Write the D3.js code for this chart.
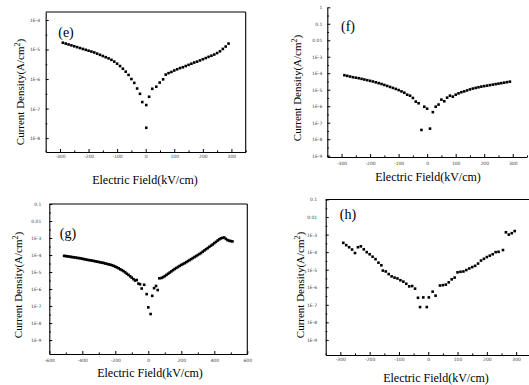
<!DOCTYPE html>
<html>
<head>
<meta charset="utf-8">
<script src="https://cdn.jsdelivr.net/npm/d3@7/dist/d3.min.js"></script>
<style>
  body { margin: 0; background: #fff; }
  svg { display: block; }
  .tick text { font-family: "DejaVu Sans", sans-serif; fill: #444; }
</style>
</head>
<body>
<svg id="chart" width="529" height="385"></svg>
<script>
// ---- data (field in kV/cm, log10 of current density in A/cm2) ----

// (e)
let eField = [-290,-280,-270,-260,-250,-240,-230,-220,-210,-200,-190,-180,-170,-160,-150,-140,-130,-120,-110,-100,
  -90,-80,-70,-60,-50,-40,-30,-20,-12,2,2,12,23,37,49,61,
  70,80,90,100,110,120,130,140,150,160,170,180,190,200,210,220,230,240,250,260,270,280,290];
let eLogJ = [-4.77,-4.80,-4.83,-4.86,-4.89,-4.92,-4.95,-4.98,-5.01,-5.04,-5.07,-5.10,-5.14,-5.18,-5.22,-5.26,-5.30,-5.35,-5.41,-5.48,
  -5.56,-5.65,-5.75,-5.86,-6.0,-6.13,-6.32,-6.5,-6.78,-6.88,-7.65,-6.6,-6.33,-6.26,-6.12,-6.01,
  -5.85,-5.8,-5.76,-5.71,-5.67,-5.63,-5.6,-5.56,-5.52,-5.48,-5.44,-5.41,-5.37,-5.33,-5.29,-5.25,-5.21,-5.17,-5.12,-5.06,-4.98,-4.9,-4.8];

// (f)
let fField = [-290,-280,-270,-260,-250,-240,-230,-220,-210,-200,-190,-180,-170,-160,-150,-140,-130,-120,-110,-100,
  -90,-80,-70,-60,-50,-40,-30,-20,-10,0,10,20,30,40,50,60,70,80,90,100,
  110,120,130,140,150,160,170,180,190,200,210,220,230,240,250,260,270,280,290];
let fLogJ = [-4.12,-4.16,-4.2,-4.24,-4.27,-4.3,-4.34,-4.38,-4.42,-4.46,-4.5,-4.55,-4.6,-4.65,-4.71,-4.77,-4.83,-4.89,-4.95,-5.02,
  -5.1,-5.18,-5.3,-5.36,-5.5,-5.72,-5.82,-7.44,-6.03,-6.15,-7.36,-6.36,-6.03,-5.9,-5.6,-5.7,-5.48,-5.36,-5.42,-5.3,
  -5.22,-5.15,-5.1,-5.04,-4.98,-4.93,-4.89,-4.85,-4.81,-4.78,-4.75,-4.72,-4.69,-4.66,-4.63,-4.6,-4.57,-4.54,-4.51];

// (g)
let gField = [-510,-500,-490,-480,-470,-460,-450,-440,-430,-420,-410,-400,-390,-380,-370,-360,-350,-340,-330,-320,
  -310,-300,-290,-280,-270,-260,-250,-240,-230,-220,-210,-200,-190,-180,-170,-160,-150,-140,-130,-120,
  -110,-100,-90,-80,-70,-60,-50,-40,-25,-10,0,14,24,35,47,57,67,
  80,90,100,110,120,130,140,150,160,170,180,190,200,210,220,230,240,250,260,270,
  280,290,300,310,320,330,340,350,360,370,380,390,400,410,420,430,440,450,460,470,480,490,500,510];
let gLogJ = [-4.05,-4.06,-4.08,-4.09,-4.11,-4.12,-4.14,-4.15,-4.17,-4.18,-4.2,-4.22,-4.24,-4.26,-4.28,-4.3,-4.31,-4.33,-4.35,-4.37,
  -4.39,-4.41,-4.43,-4.45,-4.47,-4.5,-4.52,-4.55,-4.57,-4.6,-4.64,-4.68,-4.73,-4.78,-4.84,-4.89,-4.95,-5.02,-5.1,-5.17,
  -5.25,-5.33,-5.42,-5.5,-5.47,-5.68,-5.72,-5.97,-5.75,-6.3,-7.08,-7.47,-6.4,-5.95,-5.82,-6.06,-5.37,
  -5.35,-5.3,-5.24,-5.17,-5.1,-5.03,-4.96,-4.89,-4.82,-4.76,-4.7,-4.64,-4.58,-4.53,-4.48,-4.42,-4.36,-4.3,-4.24,-4.18,
  -4.12,-4.06,-4.0,-3.94,-3.88,-3.8,-3.73,-3.66,-3.59,-3.52,-3.45,-3.38,-3.3,-3.23,-3.15,-3.08,-3.02,-2.99,-2.97,-3.05,-3.12,-3.16,-3.18,-3.2];

// (h)
let hField = [-290,-280,-270,-260,-250,-240,-230,-220,-210,-200,-190,-180,-170,-160,
  -155,-145,-135,-125,-115,-105,-95,-85,-75,-65,-55,-45,-35,-28,-17,-5,2,15,25,
  40,50,60,70,80,90,100,110,120,130,140,150,160,170,180,190,200,210,220,230,240,255,265,275,285,295];
let hLogJ = [-3.47,-3.6,-3.72,-3.85,-4.05,-3.72,-3.67,-3.84,-4.0,-4.12,-4.26,-4.4,-4.6,-4.75,
  -5.05,-5.1,-5.25,-5.38,-5.45,-5.5,-5.6,-5.68,-5.8,-5.95,-5.93,-6.08,-6.6,-7.13,-6.58,-7.13,-6.58,-6.25,-6.48,
  -5.9,-5.88,-5.85,-5.72,-5.55,-5.45,-5.15,-5.12,-5.1,-5.02,-4.93,-4.85,-4.78,-4.65,-4.48,-4.38,-4.28,-4.2,-4.12,-4.0,-3.98,-3.88,-2.87,-3.0,-2.92,-2.8];

// tick values / labels
let ticks300 = [-300,-200,-100,0,100,200,300];
let minor300 = [-350,-250,-150,-50,50,150,250,350];
let ticks600 = [-600,-400,-200,0,200,400,600];
let minor600 = [-500,-300,-100,100,300,500];
let eYTicks = [1e-4,1e-5,1e-6,1e-7,1e-8];
let eYLabels = ['1E-4','1E-5','1E-6','1E-7','1E-8'];
let fYTicks = [1,0.1,0.01,1e-3,1e-4,1e-5,1e-6,1e-7,1e-8,1e-9];
let fYLabels = ['1','0.1','0.01','1E-3','1E-4','1E-5','1E-6','1E-7','1E-8','1E-9'];
let ghYTicks = [0.1,0.01,1e-3,1e-4,1e-5,1e-6,1e-7,1e-8,1e-9];
let ghYLabels = ['0.1','0.01','1E-3','1E-4','1E-5','1E-6','1E-7','1E-8','1E-9'];

let xTitle = 'Electric Field(kV/cm)';

/* 面板布局 */
let panels = [
  {tag: '(e)', field: eField, logJ: eLogJ, box: [45.7, 245.7, 12, 152], xDom: [-350, 350], yDom: [-8.47, -3.73],
   xTicks: ticks300, xMinor: minor300, yTicks: eYTicks, yLabels: eYLabels, frame: 'box', padX: 2.5, padY: 5.5,
   label: [66, 37], xT: [145, 184], yT: [20, 92]},
  {tag: '(f)', field: fField, logJ: fLogJ, box: [327.3, 527, 7.3, 157], xDom: [-350, 350], yDom: [-9.08, 0],
   xTicks: ticks300, xMinor: minor300, yTicks: fYTicks, yLabels: fYLabels, frame: 'open', padX: 4.5, padY: 5,
   label: [348, 31], xT: [428, 181], yT: [297, 88]},
  {tag: '(g)', field: gField, logJ: gLogJ, box: [49.3, 247.3, 204, 354], xDom: [-600, 600], yDom: [-9.82, -1],
   xTicks: ticks600, xMinor: minor600, yTicks: ghYTicks, yLabels: ghYLabels, frame: 'box', padX: 4.5, padY: 8,
   label: [68, 238], xT: [150, 377], yT: [18, 285]},
  {tag: '(h)', field: hField, logJ: hLogJ, box: [325.7, 530.8, 199.5, 355], xDom: [-350, 350], yDom: [-9.86, -1],
   xTicks: ticks300, xMinor: minor300, yTicks: ghYTicks, yLabels: ghYLabels, frame: 'top', padX: 2.5, padY: 8.5,
   label: [348, 219], xT: [436, 382], yT: [300, 285]}
];

let svg = d3.select('#chart');

panels.forEach(function (p) {
  let [x0, x1, y0, y1] = p.box;
  let x = d3.scaleLinear().domain(p.xDom).range([x0, x1]);
  let y = d3.scaleLog().domain([10 ** p.yDom[0], 10 ** p.yDom[1]]).range([y1, y0]);
  let g = svg.append('g');

  // minor ticks (inward, short)
  let yMinor = p.yTicks.map(v => v * Math.sqrt(10)).filter(v => y(v) >= y0 && y(v) <= y1);
  g.append('g').attr('transform', `translate(0,${y1})`)
    .call(d3.axisBottom(x).tickValues(p.xMinor.filter(v => v >= p.xDom[0] && v <= p.xDom[1]))
      .tickSizeInner(-1.6).tickSizeOuter(0).tickFormat(''))
    .call(a => a.select('.domain').remove());
  g.append('g').attr('transform', `translate(${x0},0)`)
    .call(d3.axisLeft(y).tickValues(yMinor).tickSizeInner(-1.6).tickSizeOuter(0).tickFormat(''))
    .call(a => a.select('.domain').remove());

  // axes
  let xAxis = d3.axisBottom(x).tickValues(p.xTicks).tickSizeInner(-3).tickSizeOuter(0).tickPadding(p.padX)
    .tickFormat(d => d);
  let yAxis = d3.axisLeft(y).tickValues(p.yTicks).tickSizeInner(-3).tickSizeOuter(0).tickPadding(p.padY)
    .tickFormat((d, i) => p.yLabels[i]);

  let gx = g.append('g').attr('transform', `translate(0,${y1})`).call(xAxis);
  let gy = g.append('g').attr('transform', `translate(${x0},0)`).call(yAxis);
  [gx, gy].forEach(a => {
    a.select('.domain').attr('stroke', '#000').attr('stroke-width', 1.1);
    a.selectAll('.tick line').attr('stroke', '#000');
    a.selectAll('.tick text').style('font-size', '4.5px').attr('fill', '#444');
  });
  g.selectAll('.tick line').attr('stroke', '#000');

  if (p.frame === 'box' || p.frame === 'top') {
    g.append('line').attr('x1', x0).attr('x2', x1).attr('y1', y0).attr('y2', y0)
      .attr('stroke', '#000').attr('stroke-width', 1.1);
  }
  if (p.frame === 'box') {
    g.append('line').attr('x1', x1).attr('x2', x1).attr('y1', y0).attr('y2', y1)
      .attr('stroke', '#000').attr('stroke-width', 1.1);
  }

  // points
  let pts = p.field.map((f, i) => ({f: f, j: 10 ** p.logJ[i]}));
  let s = 2.6;
  g.append('g').selectAll('rect')
    .data(pts)
    .enter()
    .append('rect')
    .attr('x', d => x(d.f) - s / 2)
    .attr('y', d => y(d.j) - s / 2)
    .attr('width', s)
    .attr('height', s)
    .attr('fill', '#000');

  // texts
  g.append('text').attr('x', p.label[0]).attr('y', p.label[1])
    .attr('text-anchor', 'middle')
    .style('font-family', '"Liberation Serif", serif').style('font-size', '14px')
    .text(p.tag);

  g.append('text').attr('x', p.xT[0]).attr('y', p.xT[1])
    .attr('text-anchor', 'middle')
    .style('font-family', '"Liberation Serif", serif').style('font-size', '12px')
    .text(xTitle);

  let yt = g.append('text')
    .attr('transform', `translate(${p.yT[0] + 4},${p.yT[1]}) rotate(-90)`)
    .attr('text-anchor', 'middle')
    .style('font-family', '"Liberation Serif", serif').style('font-size', '11px');
  yt.append('tspan').text('Current Density(A/cm');
  yt.append('tspan').attr('dy', -4).style('font-size', '8px').text('2');
  yt.append('tspan').attr('dy', 4).text(')');
});
</script>
</body>
</html>
